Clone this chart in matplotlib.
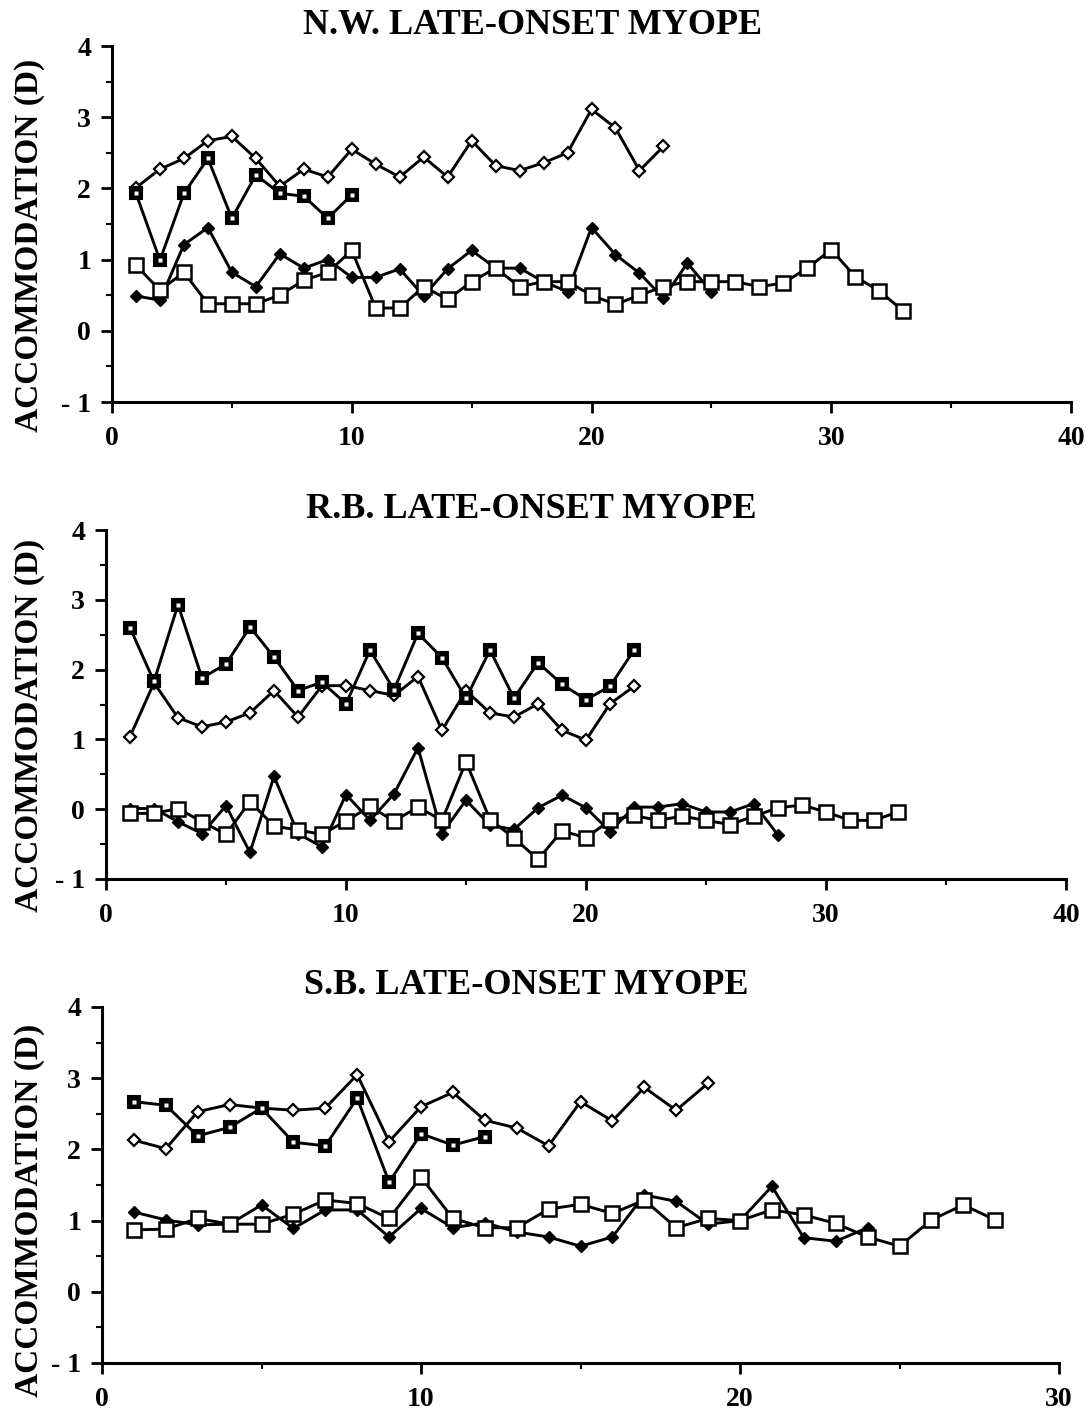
import matplotlib.pyplot as plt
import numpy as np

# accommodation (D) per trial
nw_open_diamond = [2.01, 2.27, 2.42, 2.67, 2.73, 2.42, 2.03, 2.27, 2.16, 2.55, 2.34, 2.16,
                   2.44, 2.16, 2.67, 2.32, 2.25, 2.36, 2.50, 3.11, 2.85, 2.25, 2.59]
nw_dark_square = [1.93, 0.99, 1.93, 2.42, 1.58, 2.19, 1.93, 1.89, 1.58, 1.91]
nw_filled_diamond = [0.49, 0.43, 1.21, 1.45, 0.82, 0.62, 1.08, 0.88, 1.00, 0.75, 0.75, 0.87,
                     0.49, 0.87, 1.13, 0.88, 0.88, 0.69, 0.55, 1.45, 1.07, 0.81, 0.46, 0.95, 0.55]
nw_open_square = [0.92, 0.57, 0.82, 0.38, 0.38, 0.38, 0.50, 0.71, 0.82, 1.13, 0.32, 0.32,
                  0.62, 0.44, 0.69, 0.88, 0.62, 0.69, 0.69, 0.50, 0.37, 0.50, 0.62, 0.69,
                  0.69, 0.69, 0.62, 0.67, 0.88, 1.14, 0.76, 0.56, 0.28]

rb_dark_square = [2.60, 1.83, 2.93, 1.88, 2.08, 2.61, 2.18, 1.70, 1.82, 1.51, 2.28, 1.71,
                  2.52, 2.17, 1.59, 2.28, 1.59, 2.10, 1.79, 1.57, 1.76, 2.28]
rb_open_diamond = [1.04, 1.81, 1.31, 1.18, 1.25, 1.38, 1.70, 1.32, 1.77, 1.77, 1.70, 1.63,
                   1.90, 1.13, 1.70, 1.38, 1.32, 1.51, 1.13, 0.99, 1.51, 1.76]
rb_filled_diamond = [0.01, 0.01, -0.18, -0.35, 0.05, -0.62, 0.47, -0.35, -0.54, 0.21, -0.16,
                     0.22, 0.88, -0.35, 0.13, -0.23, -0.29, 0.02, 0.20, 0.02, -0.32, 0.03,
                     0.03, 0.08, -0.04, -0.04, 0.08, -0.37]
rb_open_square = [-0.06, -0.06, 0.01, -0.18, -0.36, 0.11, -0.24, -0.30, -0.36, -0.17, 0.04,
                  -0.17, 0.03, -0.16, 0.68, -0.15, -0.41, -0.72, -0.31, -0.41, -0.16, -0.09,
                  -0.16, -0.10, -0.16, -0.22, -0.10, 0.02, 0.06, -0.04, -0.16, -0.16, -0.04]

sb_open_diamond = [2.13, 2.01, 2.53, 2.63, 2.58, 2.55, 2.58, 3.05, 2.11, 2.60, 2.80, 2.41,
                   2.30, 2.05, 2.67, 2.40, 2.87, 2.55, 2.93]
sb_dark_square = [2.67, 2.62, 2.19, 2.31, 2.58, 2.10, 2.05, 2.72, 1.54, 2.22, 2.06, 2.18]
sb_filled_diamond = [1.12, 1.01, 0.94, 0.95, 1.22, 0.89, 1.15, 1.15, 0.77, 1.17, 0.90, 0.97,
                     0.84, 0.77, 0.64, 0.77, 1.36, 1.27, 0.95, 1.00, 1.48, 0.76, 0.71, 0.90]
sb_open_square = [0.87, 0.88, 1.03, 0.95, 0.95, 1.09, 1.29, 1.24, 1.03, 1.61, 1.03, 0.90,
                  0.90, 1.16, 1.23, 1.10, 1.29, 0.90, 1.03, 1.00, 1.15, 1.08, 0.96, 0.77,
                  0.64, 1.01, 1.22, 1.01]

titles = ["N.W. LATE-ONSET MYOPE", "R.B. LATE-ONSET MYOPE", "S.B. LATE-ONSET MYOPE"]
xmax_list = [40, 40, 30]
ytick_vals = [-1, 0, 1, 2, 3, 4]
ytick_text = ["- 1", "0", "1", "2", "3", "4"]

plt.rcParams['font.family'] = ['Liberation Serif', 'DejaVu Serif']
plt.rcParams['font.weight'] = 'bold'

W, H = 1089, 1412
fig = plt.figure(figsize=(W / 100, H / 100), dpi=100)

# axes boxes in pixels: left, right(x max), top (y=4), bottom (y=-1)
boxes = [(112, 1071, 46, 402), (106, 1066, 530, 879), (102, 1059, 1007, 1363)]
title_y = [26, 510, 985]
title_x = [533, 531, 526]
ylab_y = [245, 725, 1210]

panels = [
    (nw_open_diamond, nw_dark_square, nw_filled_diamond, nw_open_square),
    (rb_open_diamond, rb_dark_square, rb_filled_diamond, rb_open_square),
    (sb_open_diamond, sb_dark_square, sb_filled_diamond, sb_open_square),
]

def trace(ax, y, style):
    x = np.arange(1, len(y) + 1)
    if style == 'open_diamond':
        ax.plot(x, y, '-', color='black', lw=2.1, marker='D', ms=6.5,
                mfc='white', mec='black', mew=1.6, zorder=3)
    elif style == 'dark_square':
        ax.plot(x, y, '-', color='black', lw=2.1, marker='s', ms=9,
                mfc='black', mec='black', mew=1.5, zorder=4)
        ax.plot(x, y, ls='none', marker='s', ms=2.2, mfc='white', mec='none', zorder=5)
    elif style == 'filled_diamond':
        ax.plot(x, y, '-', color='black', lw=2.1, marker='D', ms=6.5,
                mfc='black', mec='black', zorder=3)
    else:
        ax.plot(x, y, '-', color='black', lw=2.1, marker='s', ms=10,
                mfc='white', mec='black', mew=1.8, zorder=3)

for i, (sets, (l, r, t, b)) in enumerate(zip(panels, boxes)):
    ax = fig.add_axes([l / W, 1 - b / H, (r - l) / W, (b - t) / H])
    ax.patch.set_alpha(0)
    for y, style in zip(sets, ['open_diamond', 'dark_square', 'filled_diamond', 'open_square']):
        trace(ax, y, style)
    ax.set_xlim(0, xmax_list[i])
    ax.set_ylim(-1, 4)
    ax.spines['top'].set_visible(False)
    ax.spines['right'].set_visible(False)
    ax.spines['left'].set_linewidth(2.2)
    ax.spines['bottom'].set_linewidth(2.2)
    ax.set_xticks(np.arange(0, xmax_list[i] + 1, 10))
    ax.set_xticks(np.arange(5, xmax_list[i], 10), minor=True)
    ax.set_yticks(ytick_vals)
    ax.set_yticklabels(ytick_text)
    ax.set_yticks(np.arange(-0.5, 4, 1.0), minor=True)
    ax.tick_params(axis='both', which='major', direction='out', length=8, width=2,
                   labelsize=20)
    ax.tick_params(axis='y', which='major', pad=7)
    ax.tick_params(axis='x', which='major', pad=9)
    ax.tick_params(axis='both', which='minor', direction='out', length=4, width=1.5)
    for lab in ax.get_xticklabels() + ax.get_yticklabels():
        lab.set_fontweight('bold')
    fig.text(title_x[i] / W, 1 - title_y[i] / H, titles[i], ha='center', va='center',
             fontsize=26, fontweight='bold')
    fig.text(30 / W, 1 - ylab_y[i] / H, "ACCOMMODATION (D)", rotation=90,
             ha='center', va='center', fontsize=24, fontweight='bold')

fig.savefig('out.png', dpi=100)
